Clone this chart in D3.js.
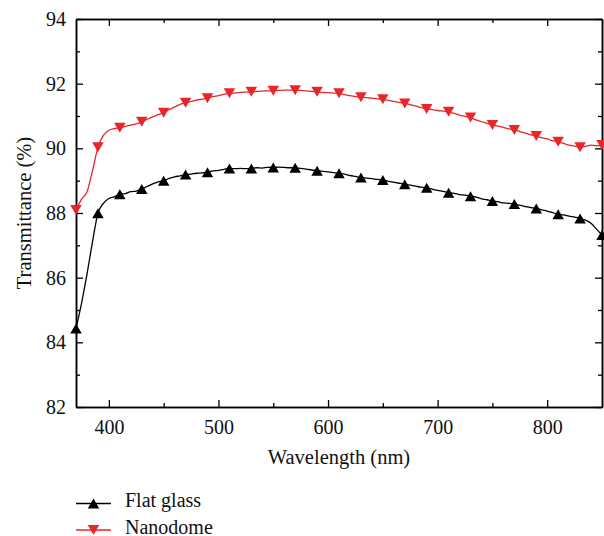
<!DOCTYPE html>
<html>
<head>
<meta charset="utf-8">
<script src="https://cdn.jsdelivr.net/npm/d3@7"></script>
<style>
  body { margin: 0; background: #fff; }
  svg text { font-family: "Liberation Serif", "Times New Roman", "DejaVu Serif", serif; }
</style>
</head>
<body>
<svg id="chart" width="604" height="536"></svg>
<script>
// wavelength grid (nm), 5 nm steps
const wavelengths = d3.range(370, 851, 5);

const flatGlass = [
  84.43, 85.20, 86.10, 87.10, 87.99, 88.30, 88.45, 88.50, 88.58, 88.60,
  88.66, 88.68, 88.74, 88.82, 88.90, 88.96, 89.00, 89.07, 89.12, 89.15,
  89.19, 89.20, 89.23, 89.24, 89.26, 89.30, 89.32, 89.35, 89.38, 89.37,
  89.38, 89.37, 89.38, 89.40, 89.39, 89.41, 89.41, 89.42, 89.41, 89.40,
  89.40, 89.38, 89.36, 89.33, 89.31, 89.29, 89.27, 89.25, 89.23, 89.20,
  89.16, 89.13, 89.10, 89.08, 89.06, 89.04, 89.02, 88.98, 88.95, 88.92,
  88.89, 88.86, 88.83, 88.80, 88.78, 88.74, 88.70, 88.67, 88.63, 88.61,
  88.57, 88.55, 88.52, 88.49, 88.44, 88.41, 88.37, 88.35, 88.31, 88.30,
  88.28, 88.24, 88.20, 88.17, 88.14, 88.10, 88.06, 88.01, 87.96, 87.94,
  87.90, 87.87, 87.83, 87.78, 87.68, 87.50, 87.32
];

const nanodome = [
  88.09, 88.42, 88.65, 89.30, 90.03, 90.40, 90.56, 90.61, 90.64, 90.68,
  90.72, 90.76, 90.82, 90.90, 90.97, 91.04, 91.10, 91.20, 91.28, 91.36,
  91.41, 91.45, 91.49, 91.52, 91.55, 91.60, 91.63, 91.67, 91.70, 91.71,
  91.73, 91.74, 91.75, 91.76, 91.77, 91.78, 91.78, 91.79, 91.80, 91.80,
  91.80, 91.79, 91.78, 91.76, 91.75, 91.73, 91.72, 91.71, 91.70, 91.66,
  91.63, 91.60, 91.58, 91.57, 91.55, 91.53, 91.52, 91.48, 91.45, 91.42,
  91.39, 91.35, 91.31, 91.26, 91.22, 91.20, 91.17, 91.15, 91.13, 91.08,
  91.03, 90.99, 90.95, 90.88, 90.83, 90.77, 90.72, 90.69, 90.65, 90.60,
  90.57, 90.52, 90.47, 90.42, 90.38, 90.33, 90.29, 90.24, 90.20, 90.15,
  90.10, 90.07, 90.03, 90.06, 90.10, 90.08, 90.10
];

const seriesNames = ["Flat glass", "Nanodome"];
const xTicks = [400, 500, 600, 700, 800];
const yTicks = [82, 84, 86, 88, 90, 92, 94];

const FONT = "'Liberation Serif', 'Times New Roman', 'DejaVu Serif', serif";

const svg = d3.select("#chart");
const margin = {top: 19, right: 2, bottom: 129, left: 76};
const width = 604 - margin.left - margin.right;
const height = 536 - margin.top - margin.bottom;

const x = d3.scaleLinear().domain([370, 850]).range([0, width]);
const y = d3.scaleLinear().domain([82, 94]).range([height, 0]);

const g = svg.append("g").attr("transform", `translate(${margin.left},${margin.top})`);

const xMinor = d3.range(450, 850, 100);
const yMinor = d3.range(83, 94, 2);

// bottom axis
g.append("g").attr("transform", `translate(0,${height})`)
    .call(d3.axisBottom(x).tickValues(xTicks).tickSizeInner(-7).tickSizeOuter(0).tickPadding(13));
g.append("g").attr("transform", `translate(0,${height})`)
    .call(d3.axisBottom(x).tickValues(xMinor).tickSizeInner(-4).tickSizeOuter(0).tickFormat(""));

// top axis
g.append("g")
    .call(d3.axisTop(x).tickValues(xTicks).tickSizeInner(-7).tickSizeOuter(0).tickFormat(""));
g.append("g")
    .call(d3.axisTop(x).tickValues(xMinor).tickSizeInner(-4).tickSizeOuter(0).tickFormat(""));

// left axis
g.append("g")
    .call(d3.axisLeft(y).tickValues(yTicks).tickSizeInner(-7).tickSizeOuter(0).tickPadding(10));
g.append("g")
    .call(d3.axisLeft(y).tickValues(yMinor).tickSizeInner(-4).tickSizeOuter(0).tickFormat(""));

// right axis
g.append("g").attr("transform", `translate(${width},0)`)
    .call(d3.axisRight(y).tickValues(yTicks).tickSizeInner(-7).tickSizeOuter(0).tickFormat(""));
g.append("g").attr("transform", `translate(${width},0)`)
    .call(d3.axisRight(y).tickValues(yMinor).tickSizeInner(-4).tickSizeOuter(0).tickFormat(""));

g.selectAll("g").attr("font-family", FONT);
g.selectAll(".domain").attr("stroke", "#000").attr("stroke-width", 1.5);
g.selectAll(".tick line").attr("stroke", "#000").attr("stroke-width", 1.3);
g.selectAll(".tick text")
    .attr("fill", "#111")
    .attr("font-family", FONT)
    .attr("font-size", 20);

// axis titles
g.append("text")
    .attr("x", width / 2)
    .attr("y", height + 57)
    .attr("text-anchor", "middle")
    .attr("font-family", FONT)
    .attr("font-size", 20.5)
    .attr("fill", "#111")
    .text("Wavelength (nm)");

g.append("text")
    .attr("transform", `translate(${-45},${height / 2}) rotate(-90)`)
    .attr("text-anchor", "middle")
    .attr("font-family", FONT)
    .attr("font-size", 20.5)
    .attr("fill", "#111")
    .text("Transmittance (%)");

// series
const colors = ["#000000", "#e8262a"];
const allSeries = [flatGlass, nanodome];

function tri(up, w, h) {
    const s = up ? 1 : -1;
    return `M0,${-s * h / 2}L${w / 2},${s * h / 2}L${-w / 2},${s * h / 2}Z`;
}

const line = d3.line()
    .x(d => x(d[0]))
    .y(d => y(d[1]))
    .curve(d3.curveMonotoneX);

allSeries.forEach((vals, i) => {
    const pts = wavelengths.map((w, j) => [w, vals[j]]);
    g.append("path")
        .datum(pts)
        .attr("fill", "none")
        .attr("stroke", colors[i])
        .attr("stroke-width", 1.3)
        .attr("d", line);

    g.append("g").selectAll("path")
        .data(pts.filter(d => (d[0] - 370) % 20 === 0))
        .join("path")
        .attr("transform", d => `translate(${x(d[0])},${y(d[1])})`)
        .attr("d", tri(i === 0, 11.5, 10))
        .attr("fill", colors[i]);
});

// legend
const legend = svg.append("g");
seriesNames.forEach((name, i) => {
    const ly = 503.5 + i * 26.5;
    legend.append("line")
        .attr("x1", 76).attr("x2", 111)
        .attr("y1", ly).attr("y2", ly)
        .attr("stroke", colors[i])
        .attr("stroke-width", 1.3);
    legend.append("path")
        .attr("transform", `translate(93.5,${ly})`)
        .attr("d", tri(i === 0, 11.5, 10))
        .attr("fill", colors[i]);
    legend.append("text")
        .attr("x", 125)
        .attr("y", ly + 3.5)
        .attr("font-family", FONT)
        .attr("font-size", 20)
        .attr("fill", "#111")
        .text(name);
});
</script>
</body>
</html>
